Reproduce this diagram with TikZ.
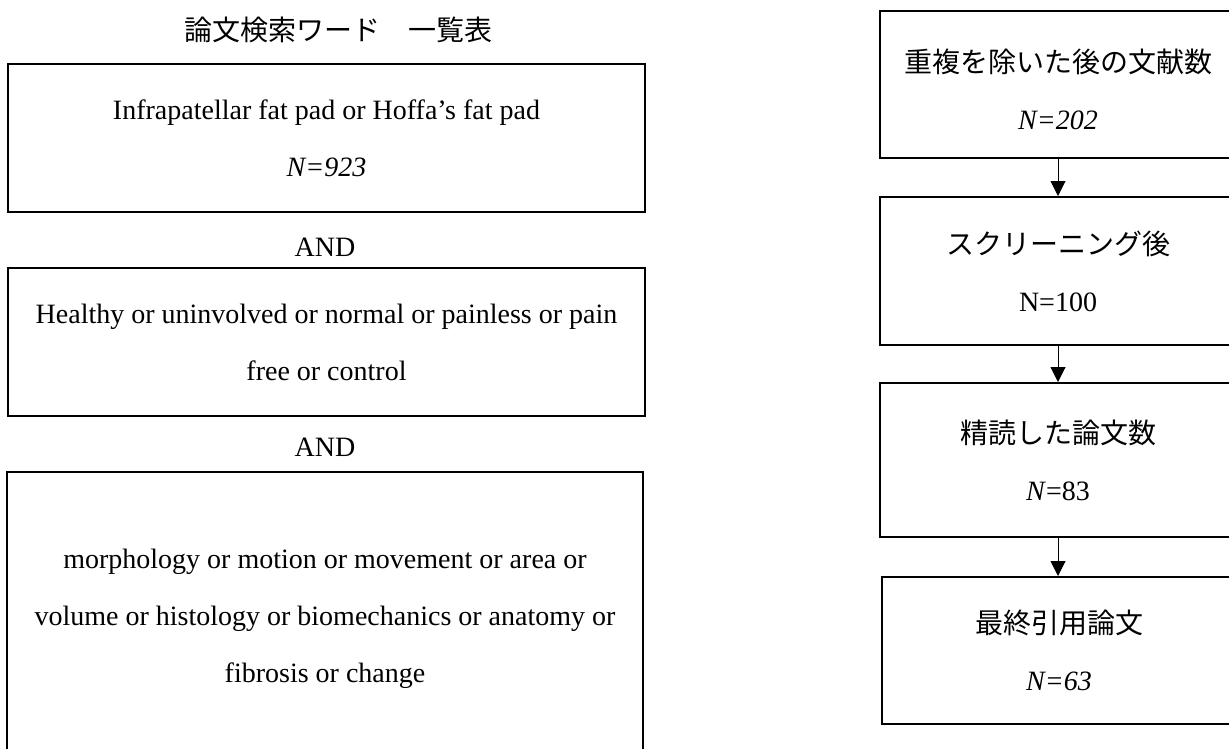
\documentclass[tikz,border=0pt]{standalone}
\usepackage{fontspec}
\setmainfont{Liberation Serif}
\newfontfamily\jp{Noto Sans CJK JP}
\usetikzlibrary{arrows.meta}
\tikzset{
  txt/.style={font=\fontsize{28}{57}\selectfont, align=center, inner sep=0pt},
  box/.style={draw=black, line width=2pt, rectangle, inner sep=0pt, align=center,
              font=\fontsize{28}{57}\selectfont},
  flow/.style={line width=1pt, -{Triangle[width=15pt,length=15pt]}}
}
\begin{document}
\begin{tikzpicture}[x=1pt,y=-1pt]
\useasboundingbox (0,0) rectangle (1229,749);
\clip (0,0) rectangle (1229,749);
\fill[white] (0,0) rectangle (1229,749);
% left column
\node[txt] (title) at (338,30) {\jp 論文検索ワード　一覧表};
\node[box, minimum width=637pt, minimum height=148pt] (b1) at (326.5,138)
  {Infrapatellar fat pad or Hoffa’s fat pad\\\textit{N=923}};
\node[txt] (and1) at (325,247) {AND};
\node[box, minimum width=637pt, minimum height=148pt] (b2) at (326.5,342)
  {Healthy or uninvolved or normal or painless or pain\\free or control};
\node[txt] (and2) at (325,447) {AND};
\node[box, minimum width=636pt, minimum height=288pt] (b3) at (325,616)
  {\rule{0pt}{26pt}morphology or motion or movement or area or\\volume or histology or biomechanics or anatomy or\\fibrosis or change};
% right column
\node[box, minimum width=356pt, minimum height=147pt] (r1) at (1058,84.5)
  {\rule{0pt}{34pt}{\jp 重複を除いた後の文献数}\\\textit{N=202}};
\node[box, minimum width=356pt, minimum height=148pt] (r2) at (1058,271)
  {{\jp スクリーニング後}\\N=100};
\node[box, minimum width=356pt, minimum height=154pt] (r3) at (1058,460)
  {{\jp 精読した論文数}\\\textit{N}=83};
\node[box, minimum width=354pt, minimum height=147pt] (r4) at (1059,650.5)
  {{\jp 最終引用論文}\\\textit{N=63}};
\draw[flow] (r1.south) -- (r2.north);
\draw[flow] (r2.south) -- (r3.north);
\draw[flow] (r3.south) -- (r4.north -| r3.south);
\end{tikzpicture}
\end{document}
